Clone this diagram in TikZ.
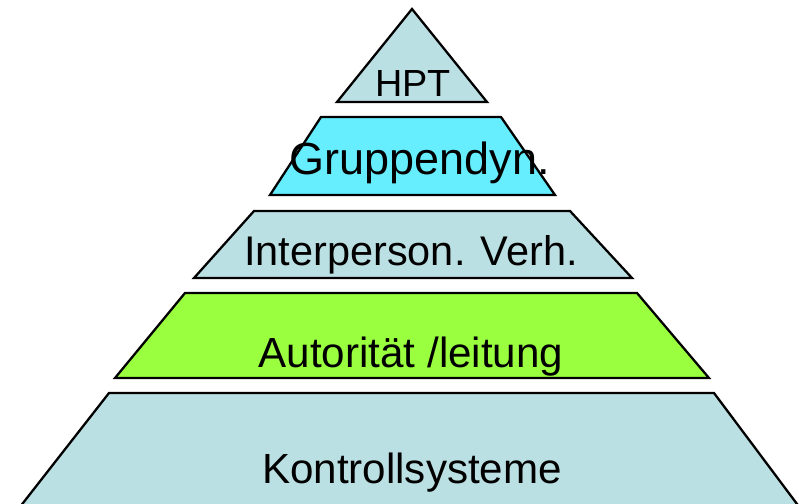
\documentclass[tikz,border=0pt]{standalone}
\usepackage{fontspec}
\setmainfont{Liberation Sans}

\definecolor{paleblue}{HTML}{BBE0E3}
\definecolor{brightcyan}{HTML}{66EEFF}
\definecolor{limegreen}{HTML}{99FF3F}

\begin{document}
\begin{tikzpicture}[x=0.02cm, y=-0.02cm,
    layer/.style={draw=black, line width=1.3pt, line join=miter},
    tag/.style={inner sep=0pt, anchor=base, font=\fontsize{#1}{#1}\selectfont}]
    \useasboundingbox (0,0) rectangle (799,504);

    % fill, top y, top left, top right, bottom y, bottom left, bottom right
    \def\slab#1#2#3#4#5#6#7{%
        \filldraw[layer, fill=#1] (#3,#2) -- (#4,#2) -- (#7,#5) -- (#6,#5) -- cycle;
    }

    % top: triangle
    \filldraw[layer, fill=paleblue] (412,9) -- (487,102) -- (337,102) -- cycle;
    \node[tag=21.5pt] (hpt) at (413,96) {HPT};

    % second layer
    \slab{brightcyan}{117}{321}{501}{195}{270}{555}
    \node[tag=25.6pt] (grp) at (420,174) {Gruppendyn.};

    % third layer
    \slab{paleblue}{211}{254}{570}{278}{194}{632}
    \node[tag=23.6pt] (inter) at (411,265) {Interperson. Verh.};

    % fourth layer
    \slab{limegreen}{293}{185}{637}{378}{115}{709}
    \node[tag=24pt] (auto) at (411,367) {Autorität /leitung};

    % base
    \slab{paleblue}{393}{109}{714}{512}{16}{803}
    \node[tag=24pt] (ctrl) at (412,483) {Kontrollsysteme};
\end{tikzpicture}
\end{document}
